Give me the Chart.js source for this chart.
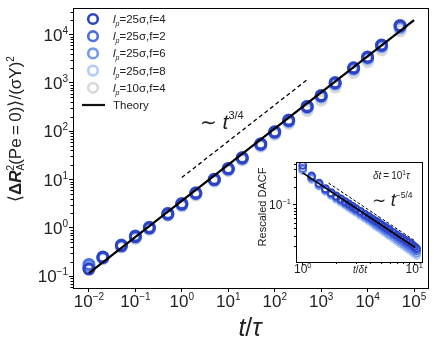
<!DOCTYPE html>
<html>
<head>
<meta charset="utf-8">
<script src="https://cdn.jsdelivr.net/npm/chart.js@4.4.0/dist/chart.umd.min.js"></script>
<style>
html, body { margin: 0; padding: 0; background: #fff; }
#wrap { position: relative; width: 436px; height: 343px; }
#main { position: absolute; left: 0; top: 0; }
#inset { position: absolute; left: 250px; top: 155px; }
</style>
</head>
<body>
<div id="wrap">
  <canvas id="main" width="436" height="343"></canvas>
  <canvas id="inset" width="178" height="125"></canvas>
</div>
<script>
const FONT = '"Liberation Sans", Arial, Helvetica, sans-serif';

// main panel: MSD vs t/tau
const tauTimes = [0.01, 0.02, 0.05, 0.1, 0.2, 0.5, 1, 2, 5, 10, 20, 50, 100, 200, 500, 1000, 2000, 5000, 10000, 20000, 50000];
const msd25f4 = [0.14, 0.245, 0.43, 0.66, 1.0, 1.94, 3.1, 5.2, 10, 16.7, 28, 54, 96, 167, 323, 540, 1000, 2030, 3400, 6000, 15000];
const msd25f2 = [0.175, 0.25, 0.44, 0.68, 1.03, 2.0, 3.2, 5.3, 10.2, 17, 28.5, 55, 98, 170, 330, 550, 1020, 2050, 3450, 6100, 15500];
const msd25f6 = [0.15, 0.24, 0.42, 0.64, 0.98, 1.9, 3.0, 5.1, 9.8, 16.3, 27, 52, 93, 160, 310, 520, 960, 1950, 3250, 5700, 14000];
const msd25f8 = [0.155, 0.235, 0.41, 0.63, 0.96, 1.87, 2.95, 5.0, 9.6, 16, 26.5, 51, 90, 155, 300, 500, 930, 1880, 3100, 5500, 13500];
const msd10f4 = [0.16, 0.23, 0.4, 0.6, 0.93, 1.8, 2.85, 4.8, 9.2, 15.3, 25.5, 49, 86, 145, 270, 440, 820, 1650, 2750, 4800, 12000];
const theoryT = [0.01, 100000];
const theoryMsd = [0.115, 20000];
const guideT = [1, 490];
const guideMsd = [11, 1150];
const xMajor = [0.01, 0.1, 1, 10, 100, 1000, 10000, 100000];
const xExp = ['−2', '−1', '0', '1', '2', '3', '4', '5'];
const yMajor = [0.1, 1, 10, 100, 1000, 10000];
const yExp = ['−1', '0', '1', '2', '3', '4'];

// inset: rescaled DACF vs t/dt
const lagRatio = [1, 1.2, 1.4, 1.6, 1.8, 2, 2.2, 2.4, 2.6, 2.8, 3, 3.3, 3.6, 3.9, 4.2, 4.5, 4.8, 5.1, 5.4, 5.7, 6, 6.5, 7, 7.5, 8, 8.5, 9, 9.5, 10, 10.5];
const dacf25f4 = [0.47, 0.31, 0.235, 0.19, 0.162, 0.142, 0.127, 0.114, 0.104, 0.095, 0.087, 0.078, 0.070, 0.064, 0.058, 0.054, 0.050, 0.046, 0.043, 0.040, 0.038, 0.034, 0.031, 0.0285, 0.0265, 0.0245, 0.023, 0.0215, 0.0198, 0.0183];
const dacf25f2 = [0.42, 0.295, 0.225, 0.182, 0.156, 0.137, 0.121, 0.109, 0.099, 0.091, 0.083, 0.074, 0.066, 0.060, 0.055, 0.050, 0.046, 0.043, 0.040, 0.037, 0.035, 0.0315, 0.0285, 0.026, 0.024, 0.0222, 0.0207, 0.0194, 0.018, 0.0168];
const dacf25f6 = [0.40, 0.28, 0.215, 0.175, 0.15, 0.13, 0.116, 0.104, 0.094, 0.086, 0.079, 0.07, 0.063, 0.057, 0.052, 0.047, 0.043, 0.04, 0.037, 0.0345, 0.0322, 0.029, 0.0262, 0.024, 0.022, 0.0203, 0.0188, 0.0175, 0.0163, 0.0152];
const dacf25f8 = [0.38, 0.27, 0.208, 0.168, 0.144, 0.125, 0.111, 0.099, 0.089, 0.082, 0.075, 0.066, 0.059, 0.054, 0.049, 0.044, 0.041, 0.0375, 0.0348, 0.0322, 0.03, 0.027, 0.0243, 0.0222, 0.0204, 0.0188, 0.0174, 0.0162, 0.015, 0.014];
const dacfTheoryX = [1, 10.2];
const dacfTheoryY = [0.35, 0.019];
const dacfGuideX = [1.7, 10.2];
const dacfGuideY = [0.236, 0.0245];

const COLORS = { f4: '#2d43c4', f2: '#4a6fe3', f6: '#7499f0', f8: '#b3cbf6', g: '#d8d8d8' };

const pts = (xs, ys) => xs.map((x, i) => ({ x, y: ys[i] }));

function circles(label, xs, ys, color, r, w) {
    return {
        label, data: pts(xs, ys), showLine: false,
        pointStyle: 'circle', pointRadius: r, pointBorderWidth: w,
        borderColor: color, backgroundColor: 'transparent',
        pointBackgroundColor: 'transparent', pointBorderColor: color
    };
}

function line(label, xs, ys, width, dash) {
    return {
        label, data: pts(xs, ys), showLine: true, pointRadius: 0,
        borderColor: '#000', borderWidth: width, borderDash: dash || [], fill: false
    };
}

// draws runs of text: {t, f, dy, over}; 'over' runs share x with the previous run
function drawRuns(ctx, runs, x, y, align) {
    const widths = runs.map(r => { ctx.font = r.f; return ctx.measureText(r.t).width; });
    let total = 0;
    runs.forEach((r, i) => { if (!r.over) total += widths[i]; });
    let cx = align === 'center' ? x - total / 2 : align === 'right' ? x - total : x;
    let lastX = cx;
    ctx.textAlign = 'left';
    ctx.textBaseline = 'alphabetic';
    runs.forEach((r, i) => {
        ctx.font = r.f;
        if (r.over) { ctx.fillText(r.t, lastX, y + (r.dy || 0)); return; }
        lastX = cx;
        ctx.fillText(r.t, cx, y + (r.dy || 0));
        cx += widths[i];
    });
}

function pow10(ctx, exp, x, y, align, big, small, rise) {
    drawRuns(ctx, [
        { t: '10', f: big + 'px ' + FONT },
        { t: exp, f: small + 'px ' + FONT, dy: -rise }
    ], x, y, align);
}

function minorTicks(ctx, scale, lo, hi, len, horizontal, ca) {
    ctx.beginPath();
    for (let d = lo; d <= hi; d++) {
        for (let m = 2; m <= 9; m++) {
            const v = m * Math.pow(10, d);
            if (v < scale.min || v > scale.max) continue;
            const p = Math.round(scale.getPixelForValue(v)) + 0.5;
            if (horizontal) { ctx.moveTo(p, ca.bottom); ctx.lineTo(p, ca.bottom + len); }
            else { ctx.moveTo(ca.left - len, p); ctx.lineTo(ca.left, p); }
        }
    }
    ctx.stroke();
}

const mainDecor = {
    id: 'mainDecor',
    afterDraw(chart) {
        const ctx = chart.ctx, ca = chart.chartArea;
        const xs = chart.scales.x, ys = chart.scales.y;
        ctx.save();
        ctx.strokeStyle = '#000';
        ctx.lineWidth = 1;
        ctx.strokeRect(Math.round(ca.left) + 0.5, Math.round(ca.top) + 0.5, Math.round(ca.right - ca.left), Math.round(ca.bottom - ca.top));
        minorTicks(ctx, ys, -2, 4, 2.5, false, ca);
        ctx.fillStyle = '#222';
        xMajor.forEach((v, i) => pow10(ctx, xExp[i], xs.getPixelForValue(v), 307, 'center', 17, 10, 7));
        yMajor.forEach((v, i) => pow10(ctx, yExp[i], 68, ys.getPixelForValue(v) + 6, 'right', 17, 10, 7));

        // x title
        drawRuns(ctx, [
            { t: 't', f: 'italic 25px ' + FONT },
            { t: '/', f: '25px ' + FONT },
            { t: 'τ', f: 'italic 25px ' + FONT }
        ], 250, 336, 'center');

        // y title
        ctx.save();
        ctx.translate(15, 129);
        ctx.rotate(-Math.PI / 2);
        drawRuns(ctx, [
            { t: '⟨', f: '18px ' + FONT },
            { t: 'Δ', f: 'bold 17px ' + FONT },
            { t: 'R', f: 'bold italic 17px ' + FONT },
            { t: '2', f: '10px ' + FONT, dy: -7 },
            { t: 'A', f: '10px ' + FONT, dy: 3, over: true },
            { t: '(Pe\u2009=\u20090)', f: '17px ' + FONT },
            { t: '⟩', f: '18px ' + FONT },
            { t: '/(σY)', f: '17px ' + FONT },
            { t: '2', f: '10px ' + FONT, dy: -7 }
        ], 0, 6, 'center');
        ctx.restore();

        // scaling annotation
        drawRuns(ctx, [
            { t: '∼ ', f: '20px ' + FONT },
            { t: 't', f: 'italic 21px ' + FONT },
            { t: '3/4', f: '11px ' + FONT, dy: -10 }
        ], 200, 129, 'left');

        // legend
        const items = chart.data.datasets.filter(d => d.legend);
        items.forEach((d, i) => {
            const cy = 19 + 17.2 * i;
            if (d.showLine) {
                ctx.strokeStyle = '#111';
                ctx.lineWidth = 2.2;
                ctx.beginPath(); ctx.moveTo(82, cy); ctx.lineTo(105, cy); ctx.stroke();
                ctx.fillStyle = '#222';
                drawRuns(ctx, [{ t: d.label, f: '11.5px ' + FONT }], 113, cy + 4, 'left');
            } else {
                ctx.strokeStyle = d.borderColor;
                ctx.lineWidth = 2.6;
                ctx.beginPath(); ctx.arc(93, cy, 4.8, 0, Math.PI * 2); ctx.stroke();
                ctx.fillStyle = '#222';
                const rest = d.label.replace('l_p', '');
                drawRuns(ctx, [
                    { t: 'l', f: 'italic 11.5px ' + FONT },
                    { t: 'p', f: 'italic 7px ' + FONT, dy: 3 },
                    { t: rest, f: '11.5px ' + FONT }
                ], 113, cy + 4, 'left');
            }
        });
        ctx.restore();
    }
};

const mainSets = [
    Object.assign(line('Theory', theoryT, theoryMsd, 2.2), { legend: true }),
    line('guide', guideT, guideMsd, 1.3, [4, 3]),
    Object.assign(circles('l_p=25σ,f=4', tauTimes, msd25f4, COLORS.f4, 5, 3), { legend: true }),
    Object.assign(circles('l_p=25σ,f=2', tauTimes, msd25f2, COLORS.f2, 5, 3), { legend: true }),
    Object.assign(circles('l_p=25σ,f=6', tauTimes, msd25f6, COLORS.f6, 5, 3), { legend: true }),
    Object.assign(circles('l_p=25σ,f=8', tauTimes, msd25f8, COLORS.f8, 5, 3), { legend: true }),
    Object.assign(circles('l_p=10σ,f=4', tauTimes, msd10f4, COLORS.g, 5, 3), { legend: true })
];
// legend order: series first, theory last
const legendOrder = [2, 3, 4, 5, 6, 0];

new Chart(document.getElementById('main'), {
    type: 'scatter',
    data: { datasets: mainSets },
    options: {
        responsive: false, animation: false, devicePixelRatio: 1,
        layout: { padding: { top: 4, right: 6, left: 0, bottom: 0 } },
        plugins: { legend: { display: false }, tooltip: { enabled: false } },
        scales: {
            x: {
                type: 'logarithmic', min: 0.00454, max: 199500,
                afterBuildTicks: s => { s.ticks = xMajor.map(v => ({ value: v })); },
                afterFit: s => { s.height = 55; },
                ticks: { display: false },
                grid: { drawOnChartArea: false, drawTicks: true, tickLength: 4, color: '#000' },
                border: { display: true, color: '#000' }
            },
            y: {
                type: 'logarithmic', min: 0.0569, max: 35560,
                afterBuildTicks: s => { s.ticks = yMajor.map(v => ({ value: v })); },
                afterFit: s => { s.width = 73; },
                ticks: { display: false },
                grid: { drawOnChartArea: false, drawTicks: true, tickLength: 4, color: '#000' },
                border: { display: true, color: '#000' }
            }
        }
    },
    plugins: [{
        id: 'legendSort',
        beforeInit(chart) {
            chart.data.datasets.forEach(d => { if (d.legend) d.legendIdx = legendOrder.indexOf(chart.data.datasets.indexOf(d)); });
        },
        afterDraw(chart) {}
    }, {
        id: 'mainDecorWrap',
        afterDraw(chart) {
            const sorted = chart.data.datasets.filter(d => d.legend).sort((a, b) => a.legendIdx - b.legendIdx);
            const saved = chart.data.datasets;
            chart.data.datasets = sorted;
            mainDecor.afterDraw(chart);
            chart.data.datasets = saved;
        }
    }]
});

const insetDecor = {
    id: 'insetDecor',
    beforeDatasetsDraw(chart) {
        const ctx = chart.ctx, ca = chart.chartArea;
        ctx.save();
        ctx.fillStyle = '#fff';
        ctx.fillRect(ca.left, ca.top, ca.right - ca.left, ca.bottom - ca.top);
        ctx.restore();
    },
    afterDraw(chart) {
        const ctx = chart.ctx, ca = chart.chartArea;
        const xs = chart.scales.x, ys = chart.scales.y;
        ctx.save();
        ctx.strokeStyle = '#000';
        ctx.lineWidth = 1;
        ctx.strokeRect(Math.round(ca.left) + 0.5, Math.round(ca.top) + 0.5, Math.round(ca.right - ca.left), Math.round(ca.bottom - ca.top));
        minorTicks(ctx, xs, 0, 1, 2, true, ca);
        minorTicks(ctx, ys, -2, -1, 2, false, ca);
        ctx.fillStyle = '#222';
        pow10(ctx, '0', xs.getPixelForValue(1), 118, 'center', 12, 7.5, 5);
        pow10(ctx, '1', xs.getPixelForValue(10), 118, 'center', 12, 7.5, 5);
        pow10(ctx, '−1', 41, ys.getPixelForValue(0.1) + 4, 'right', 12, 7.5, 5);
        drawRuns(ctx, [
            { t: 't', f: 'italic 10px ' + FONT },
            { t: '/', f: '10px ' + FONT },
            { t: 'δt', f: 'italic 10px ' + FONT }
        ], 110, 118, 'center');
        ctx.save();
        ctx.translate(12, 52);
        ctx.rotate(-Math.PI / 2);
        drawRuns(ctx, [{ t: 'Rescaled DACF', f: '11px ' + FONT }], 0, 4, 'center');
        ctx.restore();
        drawRuns(ctx, [
            { t: 'δt', f: 'italic 10px ' + FONT },
            { t: '\u2009=\u200910', f: '10px ' + FONT },
            { t: '1', f: '6.5px ' + FONT, dy: -4 },
            { t: 'τ', f: 'italic 10px ' + FONT }
        ], 123, 24, 'left');
        drawRuns(ctx, [
            { t: '∼ ', f: '17px ' + FONT },
            { t: 't', f: 'italic 18px ' + FONT },
            { t: '−5/4', f: '8.5px ' + FONT, dy: -8 }
        ], 122, 51, 'left');
        ctx.restore();
    }
};

new Chart(document.getElementById('inset'), {
    type: 'scatter',
    data: {
        datasets: [
            line('Theory', dacfTheoryX, dacfTheoryY, 1.6),
            line('guide', dacfGuideX, dacfGuideY, 1, [3, 2]),
            circles('l_p=25σ,f=4', lagRatio, dacf25f4, COLORS.f4, 3.5, 1.8),
            circles('l_p=25σ,f=2', lagRatio, dacf25f2, COLORS.f2, 3.5, 1.8),
            circles('l_p=25σ,f=6', lagRatio, dacf25f6, COLORS.f6, 3.5, 1.8),
            circles('l_p=25σ,f=8', lagRatio, dacf25f8, COLORS.f8, 3.5, 1.8)
        ]
    },
    options: {
        responsive: false, animation: false, devicePixelRatio: 1,
        layout: { padding: { top: 7, right: 4, left: 0, bottom: 0 } },
        plugins: { legend: { display: false }, tooltip: { enabled: false } },
        scales: {
            x: {
                type: 'logarithmic', min: 0.87, max: 11.78,
                afterBuildTicks: s => { s.ticks = [1, 10].map(v => ({ value: v })); },
                afterFit: s => { s.height = 18; },
                ticks: { display: false },
                grid: { drawOnChartArea: false, drawTicks: true, tickLength: 3, color: '#000' },
                border: { display: true, color: '#000' }
            },
            y: {
                type: 'logarithmic', min: 0.0108, max: 0.536,
                afterBuildTicks: s => { s.ticks = [0.1].map(v => ({ value: v })); },
                afterFit: s => { s.width = 46; },
                ticks: { display: false },
                grid: { drawOnChartArea: false, drawTicks: true, tickLength: 3, color: '#000' },
                border: { display: true, color: '#000' }
            }
        }
    },
    plugins: [insetDecor]
});
</script>
</body>
</html>
